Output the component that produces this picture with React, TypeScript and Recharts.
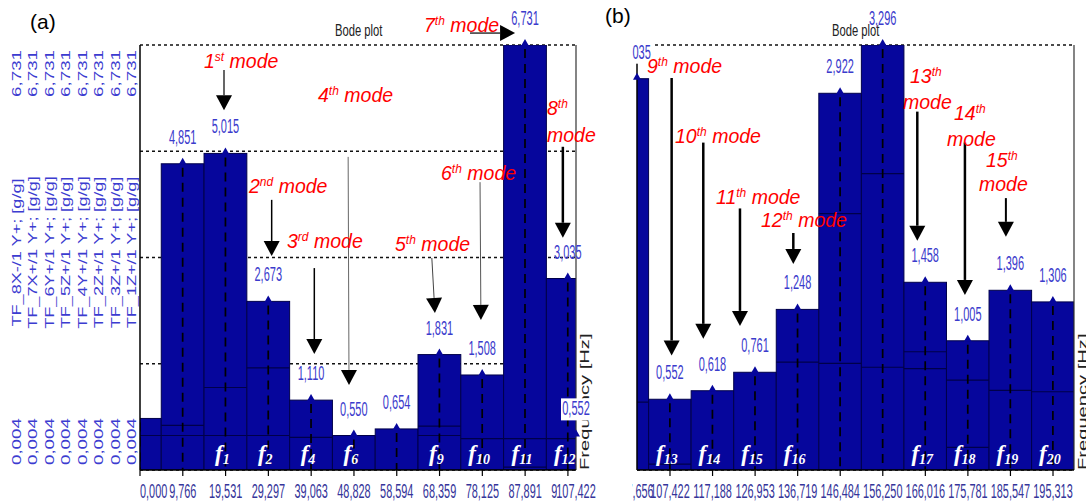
import React from 'react';
import { BarChart, Bar, XAxis, YAxis, CartesianGrid, ReferenceLine, LabelList } from 'recharts';

// ---------------- data : panel (a) ----------------
const freqA = [0, 9.766, 19.531, 29.297, 39.063, 48.828, 58.594, 68.359, 78.125, 87.891, 97.656, 107.422];
const magA = [0.82, 4.851, 5.015, 2.673, 1.11, 0.55, 0.654, 1.831, 1.508, 6.731, 3.035, 0.552];
const otherA1 = [0.55, 0.71, 1.31, 1.62, 0.52, null, null, 0.7, 0.5, 0.5, 0.5, null];
const otherA2 = [null, 0.55, 0.55, 0.55, null, null, null, 0.55, null, 0.05, null, null];
const modeA = ['', '', '1', '2', '4', '6', '', '9', '10', '11', '12', ''];
const yRangeA = [0.004, 6.731];
const xWinA = [0, 99.5];

// ---------------- data : panel (b) ----------------
const freqB = [97.656, 107.422, 117.188, 126.953, 136.719, 146.484, 156.25, 166.016, 175.781, 185.547, 195.313];
const magB = [3.035, 0.552, 0.618, 0.761, 1.248, 2.922, 3.296, 1.458, 1.005, 1.396, 1.306];
const otherB1 = [0.53, 0.05, null, null, 0.84, 1.99, 2.3, 0.92, 0.7, 0.62, 0.61];
const otherB2 = [null, null, null, null, null, 0.83, 0.8, 0.79, 0.18, null, null];
const modeB = ['', '13', '14', '15', '16', '', '', '17', '18', '19', '20'];
const yRangeB = [0.004, 3.296];
const xWinB = [99.85, 200.13];

const binHz = 9.766;

const channels = [
  'TF_1Z+/1 Y+; [g/g]', 'TF_3Z+/1 Y+; [g/g]', 'TF_2Z+/1 Y+; [g/g]', 'TF_4Y+/1 Y+; [g/g]',
  'TF_5Z+/1 Y+; [g/g]', 'TF_6Y+/1 Y+; [g/g]', 'TF_7X+/1 Y+; [g/g]', 'TF_8X-/1 Y+; [g/g]',
];

// annotation arrows in data units: [xStart, yStart, xTip, yTip]
const arrowsA = [
  [19.17, 6.335, 19.17, 5.7],
  [30.05, 4.28, 30.05, 3.39],
  [39.78, 3.2, 39.78, 1.84],
  [47.5, 4.96, 47.7, 1.35],
  [66.6, 3.36, 67.3, 2.49],
  [77.6, 4.56, 77.8, 2.38],
  [75.3, 6.92, 85.6, 6.92],
  [96.5, 5.12, 96.5, 3.68],
];
const arrowsB = [
  [107.8, 3.04, 107.8, 0.89],
  [115.06, 2.54, 115.06, 1.02],
  [123.48, 2.03, 123.48, 1.12],
  [135.72, 1.84, 135.72, 1.6],
  [164.17, 2.78, 164.17, 1.78],
  [175.1, 2.54, 175.1, 1.36],
  [184.5, 2.11, 184.5, 1.81],
];
const arrowWidthA = [1.2, 1.5, 1.5, 1, 1, 1, 1.2, 2.5];
const arrowColorA = ['#000', '#000', '#000', '#666', '#444', '#555', '#000', '#000'];
const arrowWidthB = [2.5, 2.5, 2.5, 2.5, 2.5, 2.5, 2];

// mode annotation texts (layout)
const modeTexts = [
  { n: '1', s: 'st', x: 204, y: 61 },
  { n: '2', s: 'nd', x: 249, y: 186 },
  { n: '3', s: 'rd', x: 287, y: 241 },
  { n: '4', s: 'th', x: 318, y: 95 },
  { n: '5', s: 'th', x: 395, y: 244 },
  { n: '6', s: 'th', x: 441, y: 173 },
  { n: '7', s: 'th', x: 424, y: 25 },
  { n: '8', s: 'th', x: 547, y: 108, mx: 547, my: 135 },
  { n: '9', s: 'th', x: 647, y: 66 },
  { n: '10', s: 'th', x: 675, y: 136 },
  { n: '11', s: 'th', x: 716, y: 197 },
  { n: '12', s: 'th', x: 761, y: 220 },
  { n: '13', s: 'th', x: 910, y: 76, mx: 903, my: 102 },
  { n: '14', s: 'th', x: 954, y: 113, mx: 947, my: 139 },
  { n: '15', s: 'th', x: 986, y: 160, mx: 979, my: 184 },
];

// ---------------- layout / style ----------------
const PA = { l: 140, r: 576, t: 45, b: 470 };
const PB = { l: 637, r: 1074, t: 45, b: 470 };
const COL_W = 16.5;
const BAR_FILL = '#06069c';
const BAR_EDGE = '#00004a';
const VAL_BLUE = '#3b3bcc';
const TICK_BLUE = '#35359a';
const AXIS_BLUE = '#3c3cd0';
const FONT = 'Liberation Sans, Arial, sans-serif';

const binPxA = ((PA.r - PA.l) * binHz) / (xWinA[1] - xWinA[0]);
const binPxB = ((PB.r - PB.l) * binHz) / (xWinB[1] - xWinB[0]);

const quarterTicks = (r: number[]) => [0, 1, 2, 3, 4].map((k) => r[0] + ((r[1] - r[0]) * k) / 4);

const dataA = freqA.map((f, i) => ({ f, v: magA[i], o1: otherA1[i], o2: otherA2[i], tag: modeA[i] }));
const dataB = freqB.map((f, i) => ({ f, v: magB[i], o1: otherB1[i], o2: otherB2[i], tag: modeB[i] }));

const fmt = (v: number) => v.toFixed(3).replace('.', ',');

function makeBarShape(binPx: number, yMin: number) {
  return (p: any) => {
    const { x, y, width, height, payload } = p;
    if (!(height > 0)) return <g />;
    const cx = x + width / 2;
    const left = cx - binPx / 2;
    const v = payload.v;
    const toY = (w: number) => y + height * (1 - (w - yMin) / (v - yMin));
    const others = [payload.o1, payload.o2].filter((w) => w != null && w < v);
    return (
      <g>
        <rect x={left} y={y} width={binPx} height={height} fill={BAR_FILL} stroke={BAR_EDGE} strokeWidth={1} />
        {others.map((w: number, k: number) => (
          <line key={k} x1={left} x2={left + binPx} y1={toY(w)} y2={toY(w)} stroke={BAR_EDGE} strokeWidth={1.2} />
        ))}
        <line x1={cx} x2={cx} y1={y + 4} y2={y + height} stroke="#000" strokeWidth={1.7} strokeDasharray="9 6" />
      </g>
    );
  };
}

function makeValueLabel(L: number, R: number, hideFirst: boolean) {
  return (p: any) => {
    const vb = p.viewBox || p;
    if (hideFirst && p.index === 0) return null;
    if (p.value == null) return null;
    let cx = vb.x + vb.width / 2;
    let clamped = false;
    if (cx < L) { cx = L; clamped = true; }
    if (cx > R) { cx = R; clamped = true; }
    const top = vb.y;
    return (
      <g>
        {clamped && <rect x={cx - 15} y={top - 37} width={30} height={22} fill="#fff" />}
        <polygon points={`${cx - 4},${top + 1} ${cx + 4},${top + 1} ${cx},${top - 6}`} fill={BAR_FILL} />
        <text transform={`translate(${cx},${top - 20}) scale(0.55,1)`} textAnchor="middle" fontSize={20} fill={VAL_BLUE} fontFamily={FONT}>
          {fmt(Number(p.value))}
        </text>
      </g>
    );
  };
}

const fLabel = (p: any) => {
  const vb = p.viewBox || p;
  if (!p.value) return null;
  const cx = vb.x + vb.width / 2 - 3;
  const base = vb.y + vb.height - 9;
  return (
    <text x={cx} y={base} textAnchor="middle" fill="#fff" fontFamily="Liberation Serif, DejaVu Serif, serif" fontStyle="italic" fontWeight="bold" fontSize={23}>
      f<tspan fontSize={14} dy={3}>{p.value}</tspan>
    </text>
  );
};

function makeXTick(L: number, R: number) {
  return (p: any) => {
    const v = Number(p.payload.value);
    let x = p.x;
    let anchor: any = 'middle';
    let clamped = false;
    if (Math.abs(x - L) < 2) anchor = 'start';
    else if (x < L) { x = L; clamped = true; }
    else if (x > R) { x = R; clamped = true; }
    const inside = p.x >= L - 1 && p.x <= R + 1;
    return (
      <g>
        {inside && <line x1={p.x} x2={p.x} y1={p.y} y2={p.y + 6} stroke="#000" strokeWidth={1.2} />}
        {clamped && <rect x={x - 19} y={p.y + 12} width={38} height={20} fill="#fff" />}
        <text transform={`translate(${x},${p.y + 28}) scale(0.52,1)`} textAnchor={anchor} fontSize={21} fill={TICK_BLUE} fontFamily={FONT}>
          {fmt(v)}
        </text>
      </g>
    );
  };
}

function makeYTick(r: number[]) {
  return (p: any) => {
    const v = Number(p.payload.value);
    const isMax = Math.abs(v - r[1]) < 1e-6;
    const isMin = Math.abs(v - r[0]) < 1e-6;
    if (!isMax && !isMin) return <g />;
    const cx = p.x - COL_W / 2;
    const ty = isMax ? p.y + 5 : p.y - 5;
    return (
      <text transform={`translate(${cx},${ty}) rotate(-90) scale(1.5,1)`} textAnchor={isMax ? 'end' : 'start'} dy="0.35em" fontSize={12.5} fill={AXIS_BLUE} fontFamily={FONT}>
        {fmt(v)}
      </text>
    );
  };
}

const axisName = (name: string) => (p: any) => {
  const vb = p.viewBox || {};
  const cx = vb.x + vb.width / 2;
  const cy = vb.y + vb.height / 2 - 5;
  return (
    <text transform={`translate(${cx},${cy}) rotate(-90) scale(1.45,1)`} textAnchor="middle" dy="0.35em" fontSize={12.5} fill={AXIS_BLUE} fontFamily={FONT}>
      {name}
    </text>
  );
};

const freqLabel = (p: any) => {
  const vb = p.viewBox || {};
  const x = vb.x + vb.width + 13;
  const y = vb.y;
  return (
    <text transform={`translate(${x},${y}) rotate(-90) scale(1.55,1)`} textAnchor="start" fontSize={13} fill="#222" fontFamily={FONT}>
      Frequency [Hz]
    </text>
  );
};

function arrowShape(w: number, color: string) {
  return (p: any) => {
    const { x1, y1, x2, y2 } = p;
    const dx = x2 - x1;
    const dy = y2 - y1;
    const len = Math.hypot(dx, dy) || 1;
    const ux = dx / len;
    const uy = dy / len;
    const hl = 15;
    const hw = 8;
    const bx = x2 - ux * hl;
    const by = y2 - uy * hl;
    return (
      <g>
        <line x1={x1} y1={y1} x2={bx} y2={by} stroke={color} strokeWidth={w} />
        <polygon points={`${x2},${y2} ${bx - uy * hw},${by + ux * hw} ${bx + uy * hw},${by - ux * hw}`} fill="#000" />
      </g>
    );
  };
}

const ModeText = ({ m }: { m: any }) => {
  const base: React.CSSProperties = {
    position: 'absolute', color: '#ff0000', fontStyle: 'italic', fontSize: 19.5, lineHeight: '22px',
    whiteSpace: 'nowrap', fontFamily: FONT,
  };
  const sup = <span style={{ fontSize: 12, position: 'relative', top: -7 }}>{m.s}</span>;
  if (m.mx != null) {
    return (
      <>
        <div style={{ ...base, left: m.x, top: m.y - 11 }}>{m.n}{sup}</div>
        <div style={{ ...base, left: m.mx, top: m.my - 11 }}>mode</div>
      </>
    );
  }
  return <div style={{ ...base, left: m.x, top: m.y - 11 }}>{m.n}{sup} mode</div>;
};

const titleStyle = (left: number): React.CSSProperties => ({
  position: 'absolute', left, top: 21, fontSize: 17, lineHeight: '20px', color: '#222', fontFamily: FONT,
  transform: 'scaleX(0.66)', transformOrigin: 'left top', whiteSpace: 'nowrap',
});

export default function App() {
  const gridA = quarterTicks(yRangeA);
  const gridB = quarterTicks(yRangeB);
  const yTickA = makeYTick(yRangeA);
  return (
    <div style={{ position: 'absolute', left: 0, top: 0, width: 1086, height: 504, overflow: 'hidden', background: '#fff' }}>
      {/* ---------- panel (b) ---------- */}
      <div style={{ position: 'absolute', left: 0, top: 0, width: 1086, height: 504 }}>
        <div style={titleStyle(832)}>Bode plot</div>
        <div style={{ position: 'absolute', left: 0, top: 0 }}>
          <BarChart width={1086} height={504} data={dataB} margin={{ top: PB.t, right: 1086 - PB.r, bottom: 0, left: PB.l - 1 }} barCategoryGap={0} barGap={0}>
            <CartesianGrid xAxisId="bx" yAxisId="b0" vertical={false} stroke="#111" strokeWidth={1.5} strokeDasharray="3 3" />
            <XAxis xAxisId="bx" type="number" dataKey="f" domain={xWinB} allowDataOverflow ticks={freqB} interval={0} tickLine={false} tickSize={0} tickMargin={0} height={504 - PB.b} axisLine={{ stroke: '#000', strokeWidth: 1.5 }} tick={makeXTick(PB.l, PB.r)} label={freqLabel} />
            <YAxis yAxisId="b0" type="number" width={1} domain={yRangeB} allowDataOverflow ticks={gridB} interval={0} tick={false} tickLine={false} axisLine={{ stroke: '#000', strokeWidth: 1.5 }} />
            <Bar xAxisId="bx" yAxisId="b0" dataKey="v" barSize={binPxB * 0.9} isAnimationActive={false} shape={makeBarShape(binPxB, yRangeB[0])}>
              <LabelList dataKey="v" content={makeValueLabel(PB.l, PB.r, false)} />
              <LabelList dataKey="tag" content={fLabel} />
            </Bar>
            <ReferenceLine xAxisId="bx" yAxisId="b0" x={xWinB[1]} stroke="#333" strokeWidth={1.2} ifOverflow="visible" />
            {arrowsB.map((a, i) => (
              <ReferenceLine key={i} xAxisId="bx" yAxisId="b0" ifOverflow="visible" segment={[{ x: a[0], y: a[1] }, { x: a[2], y: a[3] }]} shape={arrowShape(arrowWidthB[i], '#000')} />
            ))}
          </BarChart>
        </div>
      </div>

      {/* ---------- panel (a) ---------- */}
      <div style={{ position: 'absolute', left: 0, top: 0, width: 632, height: 504, background: '#fff', overflow: 'hidden' }}>
        <div style={titleStyle(335)}>Bode plot</div>
        <div style={{ position: 'absolute', left: 0, top: 0 }}>
          <BarChart width={632} height={504} data={dataA} margin={{ top: PA.t, right: 632 - PA.r, bottom: 0, left: PA.l - COL_W * channels.length }} barCategoryGap={0} barGap={0}>
            <CartesianGrid xAxisId="ax" yAxisId="a0" vertical={false} stroke="#111" strokeWidth={1.5} strokeDasharray="3 3" />
            <XAxis xAxisId="ax" type="number" dataKey="f" domain={xWinA} allowDataOverflow ticks={freqA} interval={0} tickLine={false} tickSize={0} tickMargin={0} height={504 - PA.b} axisLine={{ stroke: '#000', strokeWidth: 1.5 }} tick={makeXTick(PA.l, PA.r)} label={freqLabel} />
            {channels.map((name, i) => (
              <YAxis key={name} yAxisId={'a' + i} type="number" orientation="left" width={COL_W} domain={yRangeA} allowDataOverflow ticks={i === 0 ? gridA : yRangeA} interval={0} tickLine={false} tickSize={0} tickMargin={0} axisLine={i === 0 ? { stroke: '#000', strokeWidth: 1.5 } : false} tick={yTickA} label={axisName(name)} />
            ))}
            <Bar xAxisId="ax" yAxisId="a0" dataKey="v" barSize={binPxA * 0.9} isAnimationActive={false} shape={makeBarShape(binPxA, yRangeA[0])}>
              <LabelList dataKey="v" content={makeValueLabel(PA.l, PA.r, true)} />
              <LabelList dataKey="tag" content={fLabel} />
            </Bar>
            <ReferenceLine xAxisId="ax" yAxisId="a0" x={xWinA[1]} stroke="#333" strokeWidth={1.2} ifOverflow="visible" />
            {arrowsA.map((a, i) => (
              <ReferenceLine key={i} xAxisId="ax" yAxisId="a0" ifOverflow="visible" segment={[{ x: a[0], y: a[1] }, { x: a[2], y: a[3] }]} shape={arrowShape(arrowWidthA[i], arrowColorA[i])} />
            ))}
          </BarChart>
        </div>
      </div>

      {/* ---------- overlay texts ---------- */}
      <div style={{ position: 'absolute', left: 30, top: 10, fontSize: 21, lineHeight: '24px', color: '#000', fontFamily: FONT }}>(a)</div>
      <div style={{ position: 'absolute', left: 605, top: 4, fontSize: 21, lineHeight: '24px', color: '#000', fontFamily: FONT }}>(b)</div>
      {modeTexts.map((m, i) => (
        <ModeText key={i} m={m} />
      ))}
    </div>
  );
}
